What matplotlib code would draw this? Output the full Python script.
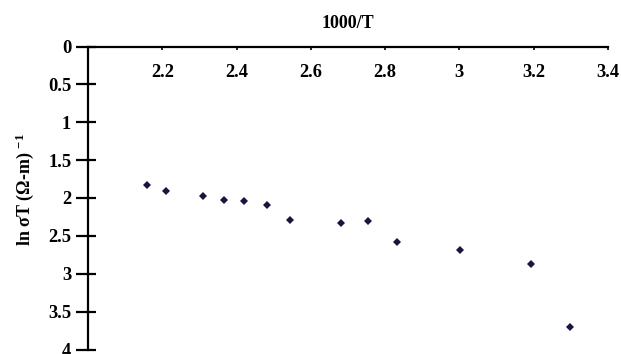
import matplotlib
matplotlib.use("Agg")
import matplotlib.pyplot as plt

# Data
inv_T = [2.159, 2.209, 2.310, 2.365, 2.420, 2.481, 2.545, 2.681, 2.754, 2.832, 3.001, 3.193, 3.299]
ln_sigmaT = [1.83, 1.91, 1.98, 2.02, 2.04, 2.09, 2.29, 2.33, 2.31, 2.58, 2.69, 2.87, 3.70]
x_ticks = [2.2, 2.4, 2.6, 2.8, 3.0, 3.2, 3.4]
x_ticklabels = ["2.2", "2.4", "2.6", "2.8", "3", "3.2", "3.4"]
y_ticks = [0, 0.5, 1, 1.5, 2, 2.5, 3, 3.5, 4]
y_ticklabels = ["0", "0.5", "1", "1.5", "2", "2.5", "3", "3.5", "4"]

plt.rcParams['font.family'] = ['Liberation Serif', 'DejaVu Serif']
plt.rcParams['font.weight'] = 'bold'
plt.rcParams['mathtext.fontset'] = 'custom'
plt.rcParams['mathtext.rm'] = 'Liberation Serif:bold'
plt.rcParams['mathtext.it'] = 'Liberation Serif:bold'
plt.rcParams['mathtext.bf'] = 'Liberation Serif:bold'

W, H = 621, 354
fig = plt.figure(figsize=(W/100, H/100), dpi=100)
ax_left, ax_right, ax_top, ax_bot = 88, 608, 46.5, 349.5
ax = fig.add_axes([ax_left/W, 1-ax_bot/H, (ax_right-ax_left)/W, (ax_bot-ax_top)/H])

ax.plot(inv_T, ln_sigmaT, linestyle='none', marker='D', markersize=4.2,
        color='#16163e', markeredgewidth=0)

ax.set_xlim(2.0, 3.4)
ax.set_ylim(4, 0)

for s in ['right', 'bottom']:
    ax.spines[s].set_visible(False)
for s in ['left', 'top']:
    ax.spines[s].set_linewidth(1.6)
    ax.spines[s].set_color('black')

fs = 13.3
ax.xaxis.tick_top()
ax.set_xticks(x_ticks)
ax.set_xticklabels(x_ticklabels, fontsize=fs, fontweight='bold')
ax.tick_params(axis='x', direction='in', length=2.5, width=1.2, pad=-25)

ax.set_yticks(y_ticks)
ax.set_yticklabels(y_ticklabels, fontsize=fs, fontweight='bold')
ax.tick_params(axis='y', which='major', direction='out', length=8.6, width=1.6, pad=3.5)
# inner part of the crossing y ticks
ax.yaxis.remove_overlapping_locs = False
ax.set_yticks(y_ticks, minor=True)
ax.tick_params(axis='y', which='minor', direction='in', length=5.8, width=1.6)

ax.set_xlabel('1000/T', fontsize=13, fontweight='bold', labelpad=13)
ax.xaxis.set_label_position('top')
ax.set_ylabel(r'ln σT (Ω-m) $^{-1}$', fontsize=13, fontweight='bold')
ax.yaxis.set_label_coords(-0.100, 0.528)

fig.savefig('out.png', dpi=100)
